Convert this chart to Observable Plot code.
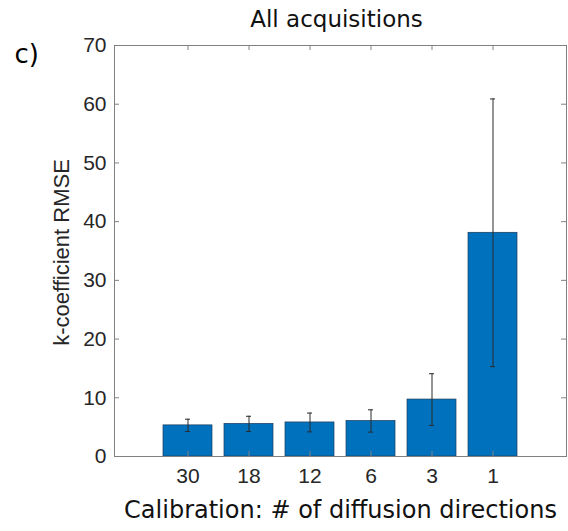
<!DOCTYPE html>
<html>
<head>
<meta charset="utf-8">
<script src="https://cdn.jsdelivr.net/npm/d3@7"></script>
<script src="https://cdn.jsdelivr.net/npm/@observablehq/plot@0.6"></script>
<style>
  html, body { margin: 0; padding: 0; background: #fff; }
</style>
</head>
<body>
<div id="chart"></div>
<script>
const labels = ["30", "18", "12", "6", "3", "1"];
const rmse = [5.3, 5.55, 5.8, 6.05, 9.7, 38.1];
const sd = [1.05, 1.3, 1.6, 1.9, 4.4, 22.8];
const yTicks = [0, 10, 20, 30, 40, 50, 60, 70];
const title = "All acquisitions";
const panel = "c)";
const xLabel = "Calibration: # of diffusion directions";
const yLabel = "k-coefficient RMSE";

const data = labels.map((l, i) => ({label: l, value: rmse[i], lo: rmse[i] - sd[i], hi: rmse[i] + sd[i]}));

const W = 568, H = 531, mL = 114, mR = 2, mT = 45, mB = 75;
const frameW = W - mL - mR, frameH = H - mT - mB;
const tickLen = 5;
const axisColor = "#808080";
const tickFont = "'Liberation Sans', Arial, sans-serif";
const labelFont = "'DejaVu Sans', Verdana, sans-serif";

const chart = Plot.plot({
  width: W,
  height: H,
  marginLeft: mL,
  marginRight: mR,
  marginTop: mT,
  marginBottom: mB,
  style: {background: "#fff", color: "#262626"},
  x: {type: "band", domain: labels, paddingInner: 0.2, paddingOuter: 0.785, axis: null},
  y: {domain: [0, 70], axis: null},
  marks: [
    Plot.barY(data, {x: "label", y: "value", fill: "#0072BD", stroke: "#1b3a5c", strokeWidth: 0.7}),
    Plot.ruleX(data, {x: "label", y1: "lo", y2: "hi", stroke: "#2a2a2a", strokeWidth: 1}),
    Plot.tickY(data, {x: "label", y: "lo", stroke: "#2a2a2a", strokeWidth: 1, insetLeft: 22, insetRight: 22}),
    Plot.tickY(data, {x: "label", y: "hi", stroke: "#2a2a2a", strokeWidth: 1, insetLeft: 22, insetRight: 22}),
    Plot.frame({stroke: axisColor, strokeWidth: 1}),
    // inward ticks
    Plot.tickY(yTicks, {y: d => d, stroke: axisColor, insetRight: frameW - tickLen}),
    Plot.tickY(yTicks, {y: d => d, stroke: axisColor, insetLeft: frameW - tickLen}),
    Plot.tickX(labels, {x: d => d, stroke: axisColor, insetBottom: frameH - tickLen}),
    Plot.tickX(labels, {x: d => d, stroke: axisColor, insetTop: frameH - tickLen}),
    Plot.axisY(yTicks, {anchor: "left", tickSize: 0, tickPadding: 8, fontSize: 21, fontFamily: tickFont, label: null, fill: "#262626"}),
    Plot.axisX({anchor: "bottom", tickSize: 0, tickPadding: 12, fontSize: 21, fontFamily: tickFont, label: null, fill: "#262626"}),
    Plot.text([yLabel], {frameAnchor: "left", dx: -53, dy: 1.5, rotate: -90, textAnchor: "middle", fontSize: 22, fontFamily: tickFont, fill: "#262626", lineAnchor: "middle"}),
    Plot.text([xLabel], {frameAnchor: "bottom", dy: 54, fontSize: 24, fontFamily: labelFont, fill: "#111", lineAnchor: "middle"}),
    Plot.text([title], {frameAnchor: "top", dy: -26, dx: -4, fontSize: 23, fontFamily: labelFont, fill: "#111", lineAnchor: "middle"}),
    Plot.text([panel], {frameAnchor: "top-left", dx: -100, dy: 9, textAnchor: "start", fontSize: 26, fontFamily: labelFont, fill: "#000", lineAnchor: "middle", fontWeight: 500})
  ]
});
document.getElementById("chart").appendChild(chart);
</script>
</body>
</html>
